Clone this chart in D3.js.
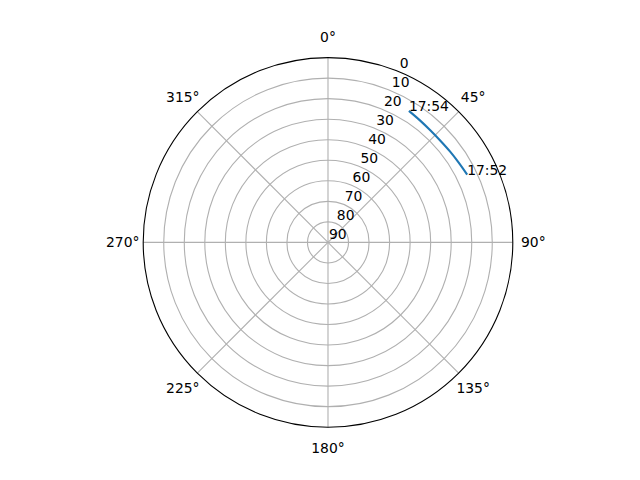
<!DOCTYPE html>
<html>
<head>
<meta charset="utf-8">
<script src="https://cdn.jsdelivr.net/npm/d3@7"></script>
<style>
  body { margin: 0; background: #fff; }
  svg text { font-family: "DejaVu Sans", sans-serif; font-size: 13.9px; fill: #000; }
</style>
</head>
<body>
<svg id="chart" width="640" height="480"></svg>
<script>
// satellite pass
const times = ['17:52:00', '17:52:20', '17:52:40', '17:53:00', '17:53:20', '17:53:40', '17:54:00'];
const azimuth = [64.0, 58.7, 53.4, 48.0, 42.5, 37.0, 31.6];
const elevation = [14.6, 15.4, 15.9, 16.2, 16.1, 15.6, 14.8];
const timeLabels = [{ idx: 0, text: '17:52' }, { idx: 6, text: '17:54' }];

const ringTicks = [0, 10, 20, 30, 40, 50, 60, 70, 80, 90];
const angleTicks = [0, 45, 90, 135, 180, 225, 270, 315];
const rLabelAngle = 22.5;

const cx = 328, cy = 242.4, R = 184.8;
const rad = (d) => d * Math.PI / 180;

const r = d3.scaleLinear().domain([90, 0]).range([0, R]);

const svg = d3.select('#chart');
const g = svg.append('g').attr('transform', `translate(${cx},${cy})`);

// ring grid
g.selectAll('.ring')
  .data(ringTicks.filter((t) => t > 0 && t < 90))
  .enter()
  .append('circle')
  .attr('class', 'ring')
  .attr('r', (d) => r(d))
  .attr('fill', 'none')
  .attr('stroke', '#b0b0b0')
  .attr('stroke-width', 1.1);

// spokes
g.selectAll('.spoke')
  .data(angleTicks)
  .enter()
  .append('line')
  .attr('class', 'spoke')
  .attr('x1', 0)
  .attr('y1', 0)
  .attr('x2', (d) => R * Math.sin(rad(d)))
  .attr('y2', (d) => -R * Math.cos(rad(d)))
  .attr('stroke', '#b0b0b0')
  .attr('stroke-width', 1.1);

// outer spine
g.append('circle')
  .attr('r', R)
  .attr('fill', 'none')
  .attr('stroke', '#000')
  .attr('stroke-width', 1.1);

// angle labels
g.selectAll('.alabel')
  .data(angleTicks)
  .enter()
  .append('text')
  .attr('class', 'alabel')
  .attr('x', (d) => (R + 20.5) * Math.sin(rad(d)))
  .attr('y', (d) => -(R + 20.5) * Math.cos(rad(d)))
  .attr('text-anchor', 'middle')
  .attr('dominant-baseline', 'central')
  .text((d) => `${d}°`);

// radial labels
g.selectAll('.rlabel')
  .data(ringTicks)
  .enter()
  .append('text')
  .attr('class', 'rlabel')
  .attr('x', (d) => r(d) * Math.sin(rad(rLabelAngle)) + 1)
  .attr('y', (d) => -r(d) * Math.cos(rad(rLabelAngle)) - 3.3)
  .text((d) => d);

// the track
const pts = times.map((t, i) => [azimuth[i], elevation[i]]);
const line = d3.lineRadial()
  .angle((d) => rad(d[0]))
  .radius((d) => r(d[1]))
  .curve(d3.curveCatmullRom);

g.append('path')
  .datum(pts)
  .attr('d', line)
  .attr('fill', 'none')
  .attr('stroke', '#1f77b4')
  .attr('stroke-width', 2.1);

g.selectAll('.tlabel')
  .data(timeLabels)
  .enter()
  .append('text')
  .attr('class', 'tlabel')
  .attr('x', (d) => r(elevation[d.idx]) * Math.sin(rad(azimuth[d.idx])))
  .attr('y', (d) => -r(elevation[d.idx]) * Math.cos(rad(azimuth[d.idx])))
  .text((d) => d.text);
</script>
</body>
</html>
